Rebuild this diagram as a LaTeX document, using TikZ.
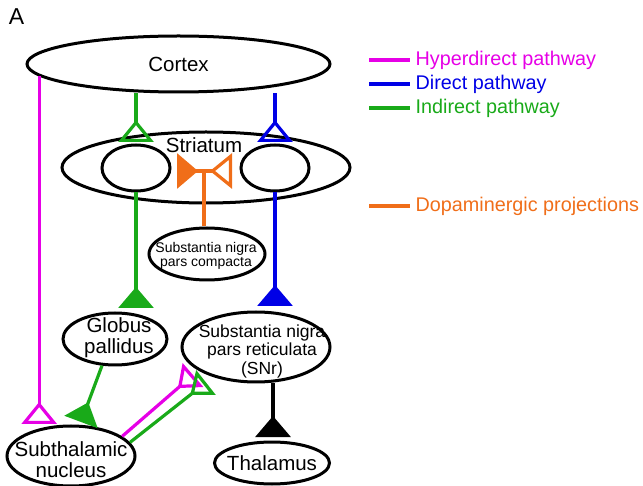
\documentclass[tikz,border=0pt]{standalone}
\usepackage{fontspec}
\setmainfont{Liberation Sans}
\usetikzlibrary{arrows.meta,shapes.geometric}

\definecolor{hyper}{RGB}{230,0,230}
\definecolor{direct}{RGB}{0,0,230}
\definecolor{indirect}{RGB}{25,170,25}
\definecolor{dopa}{RGB}{240,110,25}

\begin{document}
\begin{tikzpicture}[x=1pt, y=-1pt, line width=3.2pt,
	area/.style={draw, ellipse, line width=3pt, inner sep=0pt},
	big/.style={font=\fontsize{20.5}{21}\selectfont, align=center, inner sep=0pt},
	leg/.style={font=\fontsize{19.8}{22}\selectfont, anchor=west, inner xsep=4pt, inner ysep=0pt},
	syn/.style={-{Triangle[reversed, length=21pt, width=35pt]}},
	synopen/.style={-{Triangle[reversed, open, length=22pt, width=35pt]}},
	synslim/.style={-{Triangle[reversed, open, length=20pt, width=31pt]}}]
	\useasboundingbox (0,0) rectangle (643,486);

	\node	(panel)	[big, font=\fontsize{23}{23}\selectfont] at (16.5,17)	{A};

	% areas
	\node	(cortex)	[area, minimum width=303pt, minimum height=56pt] at (178.5,64)	{};
	\node	(striatum)	[area, minimum width=288pt, minimum height=71pt] at (206,167.5)	{};
	\node	(lstr)	[area, minimum width=68pt, minimum height=46pt] at (136,168)	{};
	\node	(rstr)	[area, minimum width=68pt, minimum height=46pt] at (275,168)	{};
	\node	(snc)	[area, minimum width=116pt, minimum height=52pt] at (207,254)	{};
	\node	(gp)	[area, minimum width=104pt, minimum height=52pt] at (115,339)	{};
	\node	(snr)	[area, minimum width=148pt, minimum height=70pt] at (256,347)	{};
	\node	(stn)	[area, minimum width=128pt, minimum height=60pt] at (71,456)	{};
	\node	(thal)	[area, minimum width=115pt, minimum height=42pt] at (272,463)	{};

	\node	(cortexlbl)	[big] at (cortex)	{Cortex};
	\node	(striatumlbl)	[big] at (204,145)	{Striatum};
	\node	(snclbl)	[big, font=\fontsize{14}{13.5}\selectfont] at (206,256)	{Substantia nigra\\pars compacta};
	\node	(gplbl)	[big] at (119,338)	{Globus\\pallidus};
	\node	(snrlbl)	[big, font=\fontsize{17.5}{18.5}\selectfont] at (262,351)	{Substantia nigra\\pars reticulata\\(SNr)};
	\node	(stnlbl)	[big] at (71,460)	{Subthalamic\\nucleus};
	\node	(thallbl)	[big] at (272,463)	{Thalamus};

	% legend
	\node	(hyperlbl)	[leg, text=hyper] at (410,60)	{Hyperdirect pathway};
	\node	(directlbl)	[leg, text=direct] at (410,84)	{Direct pathway};
	\node	(indirectlbl)	[leg, text=indirect] at (410,108)	{Indirect pathway};
	\node	(dopalbl)	[leg, text=dopa] at (410,206)	{Dopaminergic projections};
	\coordinate	(hyperkey)	at (369,60);
	\coordinate	(directkey)	at (369,84);
	\coordinate	(indirectkey)	at (369,108);
	\coordinate	(dopakey)	at (369,206);
	\draw[hyper]	(hyperkey) -- (hyperlbl.west);
	\draw[direct]	(directkey) -- (directlbl.west);
	\draw[indirect]	(indirectkey) -- (indirectlbl.west);
	\draw[dopa]	(dopakey) -- (dopalbl.west);

	% synapse ends
	\coordinate	(indin)	at (136,142);
	\coordinate	(dirin)	at (275,142);
	\coordinate	(gpin)	at (136,308);
	\coordinate	(snrin)	at (275,306);
	\coordinate	(thalin)	at (273,437);
	\coordinate	(hypstn)	at (43,424);
	\coordinate	(gpstn)	at (81,422);
	\coordinate	(hypsnr)	at (193,375);
	\coordinate	(indsnr)	at (206,382.5);
	\coordinate	(dajoin)	at (204,171);
	\coordinate	(dal)	at (177,171);
	\coordinate	(dar)	at (232,171);

	\draw[indirect, synopen]	(cortex.south -| indin) -- (indin);
	\draw[direct, synopen]	(cortex.south -| dirin) -- (dirin);
	\draw[indirect, syn]	(lstr.south) -- (lstr.south |- gpin);
	\draw[direct, syn]	(rstr.south) -- (rstr.south |- snrin);
	\draw[syn]	(snr.south -| thalin) -- (thalin);
	\draw[hyper, synopen]	(cortex.185.5) -- (cortex.185.5 |- hypstn);
	\draw[indirect, syn]	(gp.244) -- (gpstn);
	\draw[hyper, synslim]	(stn.21) -- (hypsnr);
	\draw[indirect, synslim]	(stn.13) -- (indsnr);
	\draw[dopa]	(snc.north -| dajoin) -- (dajoin);
	\draw[dopa, syn]	(dajoin) -- (dal);
	\draw[dopa, synopen]	(dajoin) -- (dar);

\end{tikzpicture}
\end{document}
